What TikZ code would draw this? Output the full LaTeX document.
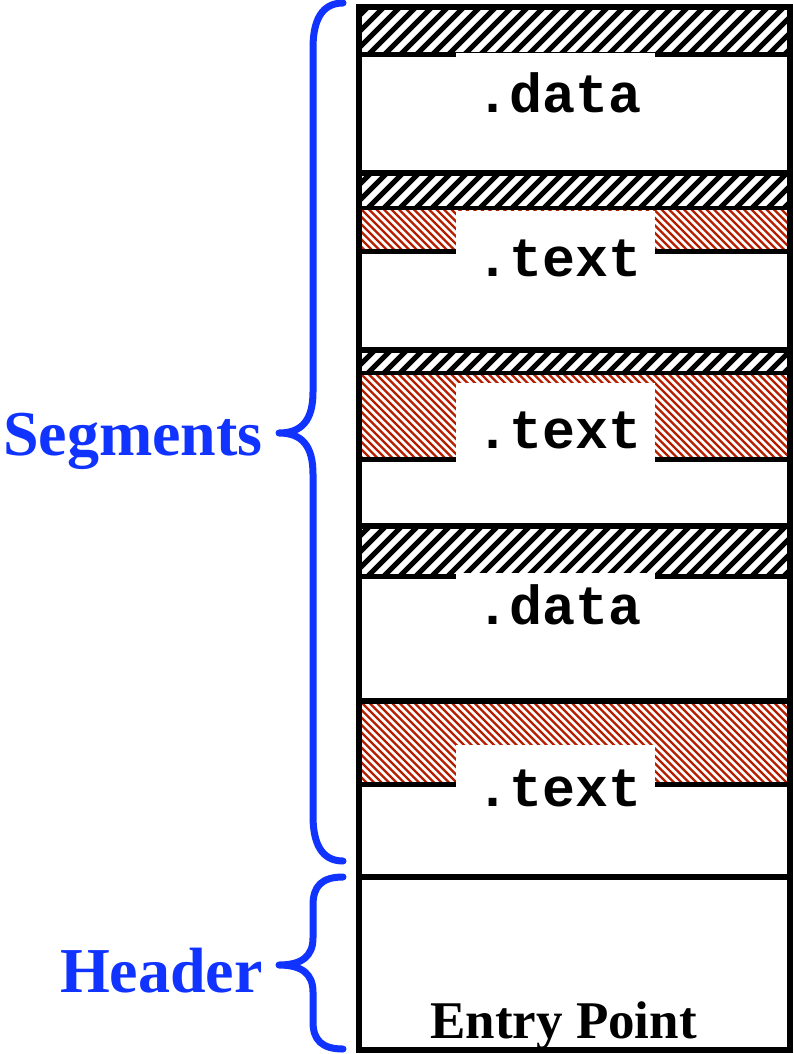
\documentclass[tikz,border=0pt]{standalone}
\usepackage{fontspec}
\setmainfont{Liberation Serif}
\newfontfamily\codefont{Liberation Mono}
\definecolor{braceblue}{RGB}{17,51,255}
\definecolor{hatchred}{RGB}{182,30,0}
\tikzset{
  segbox/.style={draw=black, line width=6pt},
  bandline/.style={draw=black, line width=5pt},
  thinband/.style={draw=black, line width=4pt},
  bhatch/.style={draw=black, line width=5pt},
  rhatch/.style={draw=hatchred, line width=2.3pt},
  labelbg/.style={fill=white, draw=none},
  code/.style={font=\codefont\bfseries\fontsize{55}{60}\selectfont, inner sep=0pt, anchor=base},
  side/.style={font=\bfseries\fontsize{64}{70}\selectfont, text=braceblue, inner sep=0pt, anchor=base east},
  entry/.style={font=\bfseries\fontsize{53}{60}\selectfont, inner sep=0pt, anchor=base},
  bracepath/.style={draw=braceblue, line width=7pt, line cap=round, line join=round},
}
\begin{document}
\begin{tikzpicture}[x=1pt,y=-1pt]
\useasboundingbox (0,0) rectangle (793,1054);

% ---------- Segment 1 (.data) ----------
\begin{scope}
  \clip (359,7) rectangle (790,55);
  \foreach \x in {240,256,...,816} \draw[bhatch] (\x,55) -- ++(110,-110);
\end{scope}
\draw[bandline] (359,55) -- (790,55);
\fill[labelbg] (456,53) rectangle (655,150);
\node[code] (d1) at (559,113) {.data};
\draw[segbox] (359,7) rectangle (790,173);

% ---------- Segment 2 (.text) ----------
\begin{scope}
  \clip (359,173) rectangle (790,208);
  \foreach \x in {240,256,...,816} \draw[bhatch] (\x,208) -- ++(110,-110);
\end{scope}
\begin{scope}
  \clip (359,208) rectangle (790,251);
  \foreach \x in {240,247.5,...,816} \draw[rhatch] (\x,208) -- ++(110,110);
\end{scope}
\draw[thinband] (359,208) -- (790,208);
\draw[bandline] (359,251) -- (790,251);
\fill[labelbg] (456,211) rectangle (655,320);
\node[code] (t1) at (559,276) {.text};
\draw[segbox] (359,173) rectangle (790,350);

% ---------- Segment 3 (.text) ----------
\begin{scope}
  \clip (359,350) rectangle (790,373);
  \foreach \x in {240,256,...,816} \draw[bhatch] (\x,373) -- ++(110,-110);
\end{scope}
\begin{scope}
  \clip (359,373) rectangle (790,459);
  \foreach \x in {240,247.5,...,816} \draw[rhatch] (\x,373) -- ++(110,110);
\end{scope}
\draw[thinband] (359,373) -- (790,373);
\draw[bandline] (359,459) -- (790,459);
\fill[labelbg] (456,383) rectangle (655,500);
\node[code] (t2) at (559,448) {.text};
\draw[segbox] (359,350) rectangle (790,526);

% ---------- Segment 4 (.data) ----------
\begin{scope}
  \clip (359,526) rectangle (790,576);
  \foreach \x in {240,256,...,816} \draw[bhatch] (\x,576) -- ++(110,-110);
\end{scope}
\draw[bandline] (359,576) -- (790,576);
\fill[labelbg] (456,573) rectangle (655,680);
\node[code] (d2) at (559,624) {.data};
\draw[segbox] (359,526) rectangle (790,701);

% ---------- Segment 5 (.text) ----------
\begin{scope}
  \clip (359,701) rectangle (790,784);
  \foreach \x in {240,247.5,...,816} \draw[rhatch] (\x,701) -- ++(110,110);
\end{scope}
\draw[bandline] (359,784) -- (790,784);
\fill[labelbg] (456,745) rectangle (655,860);
\node[code] (t3) at (559,806) {.text};
\draw[segbox] (359,701) rectangle (790,877);

% ---------- Header ----------
\draw[segbox] (359,877) rectangle (790,1050);
\node[entry] (ep) at (563.5,1038) {Entry Point};

% ---------- Braces ----------
\draw[bracepath] (343,3) .. controls (322,3) and (313,20) .. (313,48)
  -- (313,392) .. controls (313,420) and (302,433) .. (279,433)
  .. controls (302,433) and (313,446) .. (313,474)
  -- (313,816) .. controls (313,844) and (322,861) .. (343,861);
\draw[bracepath] (343,877) .. controls (322,877) and (313,886) .. (313,905)
  -- (313,938) .. controls (313,956) and (302,965) .. (279,965)
  .. controls (302,965) and (313,974) .. (313,992)
  -- (313,1022) .. controls (313,1040) and (322,1049) .. (343,1049);

\node[side] (seg) at (263,455) {Segments};
\node[side] (hdr) at (263,992) {Header};
\end{tikzpicture}
\end{document}
